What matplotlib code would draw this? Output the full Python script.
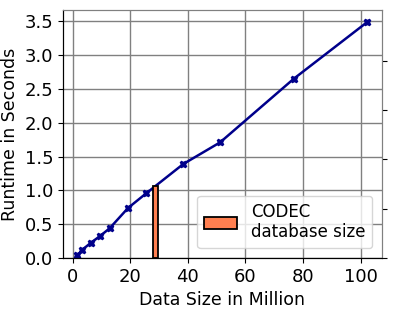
import numpy as np
import matplotlib
matplotlib.use('Agg')
import matplotlib.pyplot as plt

# data size (million) vs runtime (seconds)
sizes = [1.6, 3.2, 6.4, 9.6, 12.8, 19.2, 25.6, 38.4, 51.2, 76.8, 102.4]
runtimes = [0.04, 0.12, 0.23, 0.33, 0.44, 0.74, 0.96, 1.39, 1.71, 2.65, 3.49]

# CODEC database size marker bar
codec_size = [28.7]
codec_height = [1.07]
codec_label = 'CODEC\ndatabase size'

fig = plt.figure(figsize=(3.93, 3.14), dpi=100)
ax = fig.add_axes([0.160, 0.178, 0.812, 0.790])

ax.plot(sizes, runtimes, '-X', color='darkblue', lw=1.8, ms=5)
ax.bar(codec_size, codec_height, width=1.6, color='coral',
       edgecolor='black', linewidth=1.3, label=codec_label, zorder=3)

ax.set_ylim(0, None)
ax.set_xticks([0, 20, 40, 60, 80, 100])
ax.set_yticks(np.arange(0, 3.51, 0.5))
ax.grid(True, color='gray', lw=1)
ax.set_axisbelow(True)
ax.tick_params(labelsize=13)
ax.set_xlabel('Data Size in Million', fontsize=12.5)
ax.set_ylabel('Runtime in Seconds', fontsize=12.5)
for s in ['top', 'right']:
    ax.spines[s].set_color('gray')

ax2 = ax.twinx()
ax2.set_ylim(0, 1.005)
ax2.set_yticks([0, 0.2, 0.4, 0.6, 0.8])
ax2.set_yticklabels([])
ax2.spines['right'].set_color('gray')
ax2.spines['top'].set_color('gray')
ax2.tick_params(axis='y', colors='black', length=3.5)

ax2.legend(*ax.get_legend_handles_labels(), loc='lower right',
           fontsize=12, framealpha=0.8, borderaxespad=0.6)

fig.savefig('out.png', dpi=100)
